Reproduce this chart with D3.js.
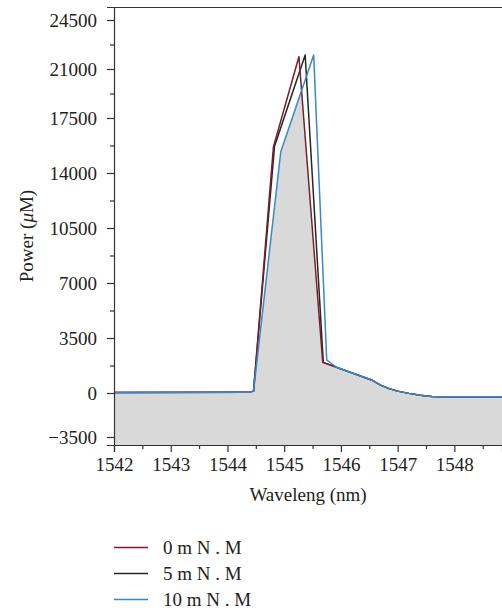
<!DOCTYPE html>
<html>
<head>
<meta charset="utf-8">
<script src="https://cdn.jsdelivr.net/npm/d3@7/dist/d3.min.js"></script>
<style>
  html, body { margin: 0; padding: 0; background: #fff; }
  svg { display: block; }
</style>
</head>
<body>
<svg id="chart" width="502" height="612"></svg>
<script>
// ---- data ----
const seriesNames = ["0 m N . M", "5 m N . M", "10 m N . M"];
const seriesColors = ["#7a1f2b", "#262626", "#3a88c9"];

const lambda0 = [1542, 1544.37, 1544.46, 1544.81, 1545.26, 1545.68, 1546.54, 1546.7, 1546.85, 1547.0, 1547.2, 1547.4, 1547.6, 1547.8, 1548.84];
const power0  = [30, 40, 120, 15650, 21880, 1950, 830, 500, 280, 120, -30, -180, -270, -295, -300];

const lambda5 = [1542, 1544.37, 1544.46, 1544.83, 1545.37, 1545.69, 1546.54, 1546.7, 1546.85, 1547.0, 1547.2, 1547.4, 1547.6, 1547.8, 1548.84];
const power5  = [30, 40, 120, 15700, 22000, 1950, 830, 500, 280, 120, -30, -180, -270, -295, -300];

const lambda10 = [1542, 1544.37, 1544.46, 1544.94, 1545.52, 1545.75, 1545.93, 1546.54, 1546.7, 1546.85, 1547.0, 1547.2, 1547.4, 1547.6, 1547.8, 1548.84];
const power10  = [30, 40, 120, 15350, 22000, 2100, 1620, 830, 500, 280, 120, -30, -180, -270, -295, -300];

const xTicks = [1542, 1543, 1544, 1545, 1546, 1547, 1548];
const xMinorTicks = [1542.5, 1543.5, 1544.5, 1545.5, 1546.5, 1547.5, 1548.5];
const yTicks = [-3500, 0, 3500, 7000, 10500, 14000, 17500, 21000, 24500];
const yMinorTicks = [1750, 5250, 8750, 12250, 15750, 19250, 22750];

// ---- layout ----
const FONT = "'Liberation Serif', 'Times New Roman', serif";
const FS = 19;
const svg = d3.select("#chart");
const pLeft = 114, pRight = 502, pTop = 7, pBottom = 445;

const x = d3.scaleLinear().domain([1542, 1548.84]).range([pLeft, pRight]);
// the reference's y axis is not evenly spaced: piecewise-linear scale
const y = d3.scaleLinear()
  .domain([-4140, -3500, 0, 14000, 17500, 24500, 25400])
  .range([pBottom, 437, 393, 173, 118, 20, pTop]);

const series = [
  {name: seriesNames[0], color: seriesColors[0], pts: lambda0.map((l, i) => [l, power0[i]])},
  {name: seriesNames[1], color: seriesColors[1], pts: lambda5.map((l, i) => [l, power5[i]])},
  {name: seriesNames[2], color: seriesColors[2], pts: lambda10.map((l, i) => [l, power10[i]])}
];

const area = d3.area().x(d => x(d[0])).y0(y(-4140)).y1(d => y(d[1]));
const line = d3.line().x(d => x(d[0])).y(d => y(d[1]));

const defs = svg.append("defs");
defs.append("clipPath").attr("id", "plotClip")
  .append("rect").attr("x", pLeft).attr("y", pTop).attr("width", pRight - pLeft).attr("height", pBottom - pTop);
defs.append("clipPath").attr("id", "clip0").append("path").attr("d", area(series[0].pts));
defs.append("clipPath").attr("id", "clip1").append("path").attr("d", area(series[1].pts));

// grey fill: region under all three curves
svg.append("g").attr("clip-path", "url(#clip0)")
  .append("g").attr("clip-path", "url(#clip1)")
  .append("path").attr("d", area(series[2].pts)).attr("fill", "#d9d9d9");

// lines
const lg = svg.append("g").attr("clip-path", "url(#plotClip)");
[1, 0, 2].forEach(i => {
  lg.append("path").attr("d", line(series[i].pts))
    .attr("fill", "none").attr("stroke", series[i].color)
    .attr("stroke-width", 1.5).attr("stroke-linejoin", "round");
});

// frame top line
svg.append("line").attr("x1", pLeft).attr("x2", pRight).attr("y1", pTop + 0.5).attr("y2", pTop + 0.5)
  .attr("stroke", "#333").attr("stroke-width", 1.2);

// x axis
const fmt = v => (v < 0 ? "\u2212" + Math.abs(v) : String(v));
svg.append("g").attr("transform", `translate(0,${pBottom})`)
  .call(d3.axisBottom(x).tickValues(xTicks).tickSize(7).tickPadding(6).tickFormat(d => String(d)));
svg.append("g").attr("transform", `translate(0,${pBottom})`)
  .call(d3.axisBottom(x).tickValues(xMinorTicks).tickSize(4).tickFormat(""))
  .call(g => g.select(".domain").remove());

// y axis
svg.append("g").attr("transform", `translate(${pLeft},0)`)
  .call(d3.axisLeft(y).tickValues(yTicks).tickSize(7).tickPadding(10).tickFormat(fmt));
svg.append("g").attr("transform", `translate(${pLeft},0)`)
  .call(d3.axisLeft(y).tickValues(yMinorTicks).tickSize(4).tickFormat(""))
  .call(g => g.select(".domain").remove());

svg.selectAll("g").attr("font-family", FONT);
svg.selectAll(".domain").attr("stroke", "#333").attr("stroke-width", 1.2);
svg.selectAll(".tick line").attr("stroke", "#333").attr("stroke-width", 1.2);
svg.selectAll(".tick text").attr("font-family", FONT).attr("font-size", FS).attr("fill", "#222");

// axis titles
svg.append("text").attr("x", (pLeft + pRight) / 2).attr("y", 501).attr("fill", "#222")
  .attr("text-anchor", "middle").attr("font-family", FONT).attr("font-size", FS).text("Waveleng (nm)");
const yl = svg.append("text").attr("transform", "translate(33,236) rotate(-90)").attr("fill", "#222")
  .attr("text-anchor", "middle").attr("font-family", FONT).attr("font-size", FS);
yl.append("tspan").text("Power (");
yl.append("tspan").attr("font-style", "italic").text("\u03bc");
yl.append("tspan").text("M)");

// legend
const leg = svg.append("g");
series.forEach((s, i) => {
  const cy = 547.5 + i * 26;
  leg.append("line").attr("x1", 114).attr("x2", 148).attr("y1", cy).attr("y2", cy)
    .attr("stroke", s.color).attr("stroke-width", 1.5);
  leg.append("text").attr("x", 163).attr("y", cy + 6).attr("fill", "#222")
    .attr("font-family", FONT).attr("font-size", FS).text(s.name);
});
</script>
</body>
</html>
